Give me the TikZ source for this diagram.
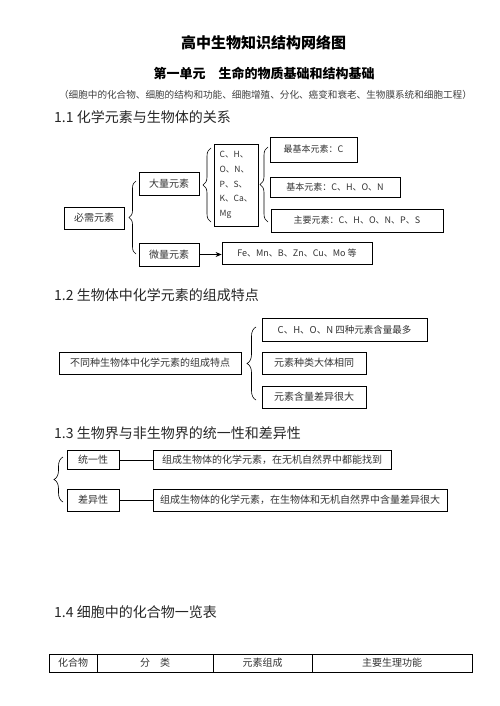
\documentclass[tikz,border=0pt]{standalone}
\usepackage{fontspec}
\setmainfont{Noto Sans CJK SC}
\usetikzlibrary{decorations.pathreplacing,arrows.meta}
\begin{document}
\begin{tikzpicture}[x=1pt,y=-1pt,
  box/.style={draw, line width=0.8pt, inner sep=0pt, font=\fontsize{10}{12}\selectfont, text=black!80},
  br/.style={decorate, decoration={brace, amplitude=#1}, line width=0.6pt},
  head/.style={anchor=west, inner sep=0pt, font=\fontsize{14}{16}\selectfont, text=black!85},
  conn/.style={line width=0.8pt}]
\useasboundingbox (0,0) rectangle (500,706);
\fill[white] (0,0) rectangle (500,706);
% titles
\node[inner sep=0pt, font=\fontsize{15}{17}\selectfont\bfseries] (t1) at (263.5,43) {高中生物知识结构网络图};
\node[inner sep=0pt, font=\fontsize{13}{15}\selectfont\bfseries] (t2) at (264,73) {第一单元　生命的物质基础和结构基础};
\node[inner sep=0pt, font=\fontsize{9.6}{11}\selectfont, text=black!75] (t3) at (265.5,95) {（细胞中的化合物、细胞的结构和功能、细胞增殖、分化、癌变和衰老、生物膜系统和细胞工程）};
% 1.1
\node[head] (h1) at (54,117) {1.1 化学元素与生物体的关系};
\node[box, minimum width=60, minimum height=22] (bx) at (94,218) {必需元素};
\node[box, minimum width=60, minimum height=23] (dl) at (169,183.5) {大量元素};
\node[box, minimum width=60, minimum height=23] (wl) at (169,254.5) {微量元素};
\node[box, minimum width=44, minimum height=82, align=left, font=\fontsize{8.5}{14.7}\selectfont] (ch) at (236,185) {C、H、\\O、N、\\P、S、\\K、Ca、\\Mg};
\node[box, minimum width=150, minimum height=22, font=\fontsize{9}{11}\selectfont] (fe) at (297,253) {Fe、Mn、B、Zn、Cu、Mo 等};
\node[box, minimum width=87, minimum height=25, font=\fontsize{9}{11}\selectfont] (zj) at (313.5,149.5) {最基本元素：C};
\node[box, minimum width=130, minimum height=20, font=\fontsize{9}{11}\selectfont] (jb) at (335,187) {基本元素：C、H、O、N};
\node[box, minimum width=172, minimum height=23, font=\fontsize{9}{11}\selectfont] (zy) at (357,220.5) {主要元素：C、H、O、N、P、S};
\draw[br=7pt] (136,254) -- (136,181);
\draw[br=8pt] (211,222) -- (211,148);
\draw[br=8pt] (268,222) -- (268,147);
\draw[conn, -{Stealth[length=6pt,width=5pt]}] (wl.east) -- (wl.east -| fe.west);
% 1.2
\node[head] (h2) at (54,295) {1.2 生物体中化学元素的组成特点};
\node[box, minimum width=182, minimum height=22] (bt) at (150,363) {不同种生物体中化学元素的组成特点};
\node[box, minimum width=165, minimum height=23, font=\fontsize{9.5}{11}\selectfont] (c1) at (344.5,329.5) {C、H、O、N 四种元素含量最多};
\node[box, minimum width=104, minimum height=22] (c2) at (314,363) {元素种类大体相同};
\node[box, minimum width=104, minimum height=22] (c3) at (314,397) {元素含量差异很大};
\draw[br=9pt] (256,400) -- (256,327);
% 1.3
\node[head] (h3) at (54,433) {1.3 生物界与非生物界的统一性和差异性};
\node[box, minimum width=52, minimum height=19] (ty) at (93,460) {统一性};
\node[box, minimum width=238, minimum height=19] (ty2) at (272,460) {组成生物体的化学元素，在无机自然界中都能找到};
\node[box, minimum width=52, minimum height=22] (cy) at (93,500) {差异性};
\node[box, minimum width=294, minimum height=22] (cy2) at (300,500) {组成生物体的化学元素，在生物体和无机自然界中含量差异很大};
\draw[conn] (ty.east) -- (ty2.west);
\draw[conn] (cy.east) -- (cy2.west);
\draw[br=9pt] (63,502) -- (63,457);
% 1.4
\node[head] (h4) at (54,612) {1.4 细胞中的化合物一览表};
\draw[line width=1pt] (49,654) rectangle (472,672);
\draw[line width=0.8pt] (97,654) -- (97,672) (213,654) -- (213,672) (312,654) -- (312,672);
\node[inner sep=0pt, font=\fontsize{10}{12}\selectfont, text=black!80] (k1) at (73,663) {化合物};
\node[inner sep=0pt, font=\fontsize{10}{12}\selectfont, text=black!80] (k2) at (155,663) {分　类};
\node[inner sep=0pt, font=\fontsize{10}{12}\selectfont, text=black!80] (k3) at (262.5,663) {元素组成};
\node[inner sep=0pt, font=\fontsize{10}{12}\selectfont, text=black!80] (k4) at (392,663) {主要生理功能};
\end{tikzpicture}
\end{document}
